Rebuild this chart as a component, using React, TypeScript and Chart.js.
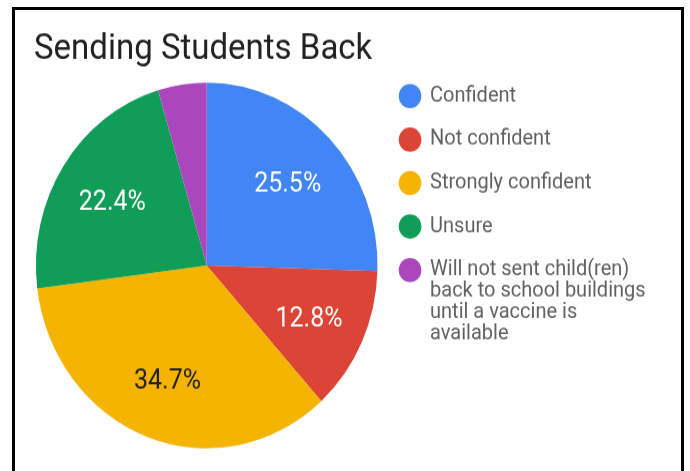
import React, { useEffect, useRef } from "react";
import { Chart, registerables } from "chart.js";

Chart.register(...registerables);

// ---------- data ----------
const chartTitle = "Sending Students Back";
const categories: (string | string[])[] = [
  "Confident",
  "Not confident",
  "Strongly confident",
  "Unsure",
  ["Will not sent child(ren)", "back to school buildings", "until a vaccine is", "available"],
];
const shares = [25.5, 12.8, 34.7, 22.4, 4.6];
const sliceColors = ["#4285F4", "#DB4437", "#F4B400", "#0F9D58", "#AB47BC"];
const sliceTextColors = ["#ffffff", "#ffffff", "#1f1f1f", "#ffffff", "#ffffff"];

// ---------- sizing ----------
const VIEW_W = 690;
const VIEW_H = 471;
const BUF_H = 440; // drawing buffer height (picture is slightly stretched vertically)

const sliceLabelPlugin = {
  id: "sliceLabels",
  afterDatasetsDraw(chart: any) {
    const meta = chart.getDatasetMeta(0);
    const ctx = chart.ctx;
    const total = shares.reduce((a, b) => a + b, 0);
    ctx.save();
    ctx.font = "25px Roboto";
    ctx.textAlign = "center";
    ctx.textBaseline = "middle";
    meta.data.forEach((arc: any, i: number) => {
      const v = shares[i];
      if (v / total < 0.05) return;
      const { x, y, startAngle, endAngle, outerRadius } = arc.getProps(
        ["x", "y", "startAngle", "endAngle", "outerRadius"],
        true
      );
      const a = (startAngle + endAngle) / 2;
      const r = outerRadius * 0.66;
      ctx.fillStyle = sliceTextColors[i];
      ctx.fillText(v.toFixed(1) + "%", x + Math.cos(a) * r, y + Math.sin(a) * r + 3);
    });
    ctx.restore();
  },
};

export default function App() {
  const canvasRef = useRef<HTMLCanvasElement | null>(null);

  useEffect(() => {
    document.body.style.margin = "0";
    const canvas = canvasRef.current;
    if (!canvas) return;
    Chart.defaults.font.family = "Roboto";
    const chart = new Chart(canvas, {
      type: "pie",
      data: {
        labels: categories as any,
        datasets: [
          {
            data: shares,
            backgroundColor: sliceColors,
            borderWidth: 0,
            hoverOffset: 0,
            offset: 0,
            radius: 170.8,
          } as any,
        ],
      },
      options: {
        responsive: false,
        animation: false,
        devicePixelRatio: 1,
        events: [],
        layout: { padding: { left: 34, right: 34.4, top: 0, bottom: 1.2 } },
        plugins: {
          title: {
            display: true,
            text: chartTitle,
            align: "start",
            color: "#212121",
            font: { family: "Roboto", size: 33, weight: "normal", lineHeight: 1 },
            padding: { top: 30.2, bottom: -6 },
          },
          legend: {
            display: true,
            position: "right",
            align: "start",
            fullSize: false,
            title: {
              display: true,
              text: "",
              font: { size: 1, lineHeight: 1 },
              padding: { top: 0.5, bottom: 0.5 },
            },
            labels: {
              usePointStyle: true,
              pointStyle: "circle",
              boxWidth: 20,
              boxHeight: 16,
              padding: 20.6,
              color: "#616161",
              font: { family: "Roboto", size: 20, lineHeight: 0.99 },
            },
          },
          tooltip: { enabled: false },
        },
      } as any,
      plugins: [sliceLabelPlugin],
    });
    return () => chart.destroy();
  }, []);

  return (
    <div
      style={{
        position: "fixed",
        left: 0,
        top: 0,
        width: VIEW_W,
        height: VIEW_H,
        overflow: "hidden",
        background: "#ffffff",
      }}
    >
      <canvas
        ref={canvasRef}
        width={VIEW_W}
        height={BUF_H}
        style={{ position: "absolute", left: 0, top: 0, width: VIEW_W, height: VIEW_H }}
      />
      <div
        style={{
          position: "absolute",
          left: 12,
          top: 7,
          width: 666,
          height: 600,
          border: "3px solid #000",
          pointerEvents: "none",
        }}
      />
    </div>
  );
}
